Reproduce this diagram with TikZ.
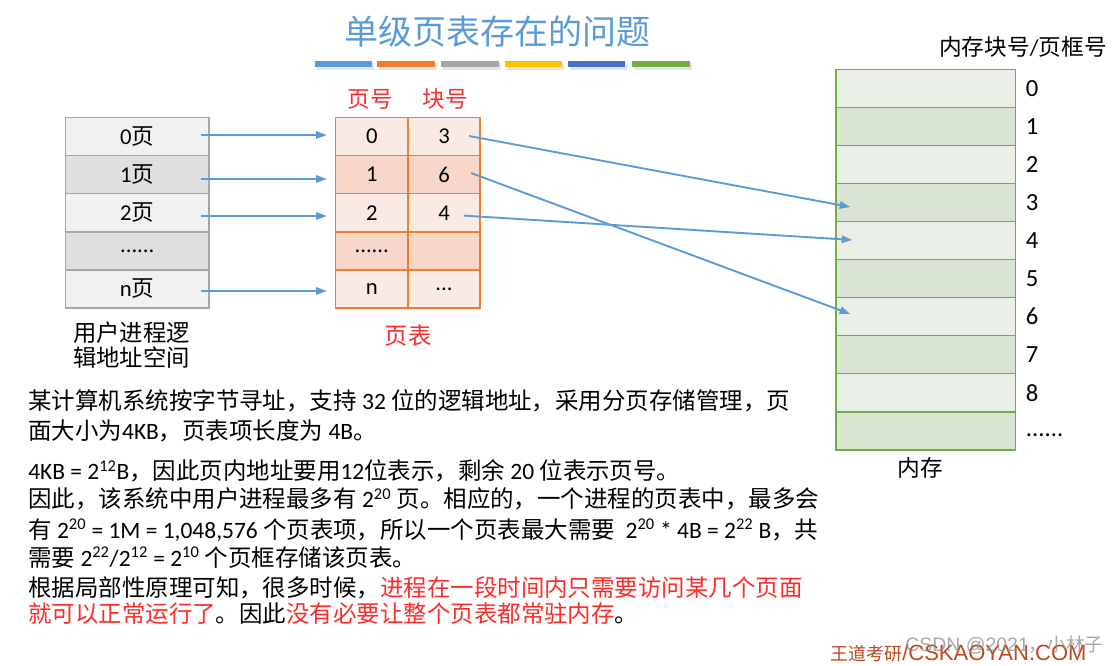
\documentclass[tikz,border=0pt]{standalone}
\usepackage{fontspec}
\setmainfont{Carlito}
\newfontfamily\latinfont{Carlito}
\newfontfamily\cjkfont{Noto Sans CJK SC}
\newfontfamily\arialfont{Liberation Sans}
\usetikzlibrary{arrows.meta}
% automatic switch between Latin and CJK fonts
\XeTeXinterchartokenstate=1
\newXeTeXintercharclass\CJKcls
\newcount\cjkc
\cjkc="3000
\loop\ifnum\cjkc<"A000 \XeTeXcharclass\cjkc=\CJKcls \advance\cjkc by 1 \repeat
\cjkc="FF00
\loop\ifnum\cjkc<"FFF0 \XeTeXcharclass\cjkc=\CJKcls \advance\cjkc by 1 \repeat
\def\mylatin{\latinfont}
\def\mycjk{\cjkfont}
\XeTeXinterchartoks 0 \CJKcls = {\mycjk}
\XeTeXinterchartoks 4095 \CJKcls = {\mycjk}
\XeTeXinterchartoks \CJKcls 0 = {\mylatin}
\XeTeXinterchartoks \CJKcls 4095 = {\mylatin}
\newcommand\fsz[2]{\fontsize{#1pt}{#2pt}\selectfont}
\definecolor{titleblue}{HTML}{5B9BD5}
\definecolor{arrowblue}{HTML}{5B9BD5}
\definecolor{barA}{HTML}{5B9BD5}
\definecolor{barB}{HTML}{ED7D31}
\definecolor{barC}{HTML}{A5A5A5}
\definecolor{barD}{HTML}{FFC000}
\definecolor{barE}{HTML}{4472C4}
\definecolor{barF}{HTML}{70AD47}
\definecolor{lborder}{HTML}{A6A6A6}
\definecolor{llight}{HTML}{F1F1F1}
\definecolor{ldark}{HTML}{DFDFDF}
\definecolor{tborder}{HTML}{ED7D31}
\definecolor{tlight}{HTML}{FBEAE3}
\definecolor{tdark}{HTML}{F8D6CA}
\definecolor{mborder}{HTML}{70AD47}
\definecolor{mlight}{HTML}{EAEFE7}
\definecolor{mdark}{HTML}{D9E4D2}
\definecolor{hired}{HTML}{FF2B2B}
\definecolor{wmred}{HTML}{C0461E}
\begin{document}
\begin{tikzpicture}[x=0.75pt,y=-0.75pt,
  lcell/.style={draw=lborder, line width=1pt, minimum width=107.6pt, minimum height=28.55pt, inner sep=0pt, font=\fsz{17}{19}},
  tcell/.style={draw=tborder, line width=1pt, minimum height=28.55pt, inner sep=0pt, font=\fsz{17}{19}},
  tcola/.style={tcell, minimum width=54.4pt},
  tcolb/.style={tcell, minimum width=54pt},
  mcell/.style={draw=mborder, line width=1pt, minimum width=134.6pt, minimum height=28.55pt, inner sep=0pt},
  mnum/.style={anchor=west, inner sep=0pt, font=\fsz{18.5}{20}},
  redlbl/.style={text=hired, inner sep=0pt, font=\fsz{17}{19}},
  body/.style={anchor=base west, inner sep=0pt, font=\fsz{17.6}{20}},
  arr/.style={draw=arrowblue, line width=1.4pt, -{Triangle[length=8pt,width=5.5pt]}}
]
\useasboundingbox (0,0) rectangle (1118,666);
\fill[white] (0,0) rectangle (1118,666);

% title
\node[text=titleblue, font=\fsz{25.5}{28}, inner sep=0pt] (title) at (497,32) {单级页表存在的问题};
% colour bars with faint shadow
\foreach \a/\b in {315/372,377/435,441/499,505/562,568/625,632/690}{
  \fill[black!10] (\a+1.5,63) rectangle (\b+1.5,70);
}
\fill[barA] (315,61) rectangle (372,67);
\fill[barB] (377,61) rectangle (435,67);
\fill[barC] (441,61) rectangle (499,67);
\fill[barD] (505,61) rectangle (562,67);
\fill[barE] (568,61) rectangle (625,67);
\fill[barF] (632,61) rectangle (690,67);

% logical address space
\node[lcell, fill=llight] (l0) at (137.25,136.6) {0页};
\node[lcell, fill=ldark]  (l1) at (137.25,174.7) {1页};
\node[lcell, fill=llight] (l2) at (137.25,212.8) {2页};
\node[lcell, fill=ldark]  (l3) at (137.25,250.9) {......};
\node[lcell, fill=llight] (l4) at (137.25,289.0) {n页};
\node[inner sep=0pt, align=left, font=\fsz{17.5}{18.75}] (llbl) at (131.5,345.5) {用户进程逻\\辑地址空间};

% page table
\node[redlbl] (hpg) at (370,99) {页号};
\node[redlbl] (hblk) at (445,99) {块号};
\node[tcola, fill=tlight] (t0a) at (371.75,136.6) {0};
\node[tcolb, fill=tlight] (t0b) at (444,136.6) {3};
\node[tcola, fill=tdark]  (t1a) at (371.75,174.7) {1};
\node[tcolb, fill=tdark]  (t1b) at (444,174.7) {6};
\node[tcola, fill=tlight] (t2a) at (371.75,212.8) {2};
\node[tcolb, fill=tlight] (t2b) at (444,212.8) {4};
\node[tcola, fill=tdark]  (t3a) at (371.75,250.9) {......};
\node[tcolb, fill=tdark]  (t3b) at (444,250.9) {};
\node[tcola, fill=tlight] (t4a) at (371.75,289.0) {n};
\node[tcolb, fill=tlight] (t4b) at (444,289.0) {...};
\node[redlbl, font=\fsz{17.5}{19}] (ptlbl) at (408,336) {页表};

% memory
\node[anchor=east, inner sep=0pt, font=\fsz{17}{19}] (mhead) at (1107,47) {内存块号/页框号};
\foreach \k in {0,...,9}{
  \pgfmathsetmacro{\yy}{88.3+38.07*\k}
  \pgfmathtruncatemacro{\odd}{mod(\k,2)}
  \ifnum\odd=0
    \node[mcell, fill=mlight] (m\k) at (925.75,\yy) {};
  \else
    \node[mcell, fill=mdark] (m\k) at (925.75,\yy) {};
  \fi
}
\foreach \k in {0,...,8}{
  \node[mnum] (n\k) at ([shift={(9.5,0)}]m\k.east) {\k};
}
\node[mnum] (n9) at ([shift={(9.5,4)}]m9.east) {......};
\node[inner sep=0pt, font=\fsz{17}{19}] (mlbl) at (920,468) {内存};

% arrows: logical pages -> page table
\draw[arr] ([shift={(-9,-1.6)}]l0.east) -- ([shift={(-8,-1.6)}]t0a.west);
\draw[arr] ([shift={(-9,4.3)}]l1.east) -- ([shift={(-8,4.3)}]t1a.west);
\draw[arr] ([shift={(-9,3.2)}]l2.east) -- ([shift={(-8,3.2)}]t2a.west);
\draw[arr] ([shift={(-9,2)}]l4.east) -- ([shift={(-8,2)}]t4a.west);
% arrows: page table -> memory frames
\draw[arr] ([shift={(25,-0.6)}]t0b.center) -- ([shift={(15,4.5)}]m3.west);
\draw[arr] ([shift={(27,-1.7)}]t1b.center) -- ([shift={(15,-2.7)}]m6.west);
\draw[arr] ([shift={(20,2.8)}]t2b.center) -- ([shift={(17,-0.6)}]m4.west);

% explanatory text
\node[body] (p1) at (28,410) {某计算机系统按字节寻址，支持 32 位的逻辑地址，采用分页存储管理，页};
\node[body] (p2) at (28,440) {面大小为4KB，页表项长度为 4B。};
\node[body] (p3) at (28,480) {4KB = 2\textsuperscript{12}B，因此页内地址要用12位表示，剩余 20 位表示页号。};
\node[body] (p4) at (28,508) {因此，该系统中用户进程最多有 2\textsuperscript{20} 页。相应的，一个进程的页表中，最多会};
\node[body] (p5) at (28,538) {有 2\textsuperscript{20} = 1M = 1,048,576 个页表项，所以一个页表最大需要~~2\textsuperscript{20} * 4B = 2\textsuperscript{22} B，共};
\node[body] (p6) at (28,566) {需要 2\textsuperscript{22}/2\textsuperscript{12} = 2\textsuperscript{10} 个页框存储该页表。};
\node[body] (p7) at (28,596) {根据局部性原理可知，很多时候，\textcolor{hired}{进程在一段时间内只需要访问某几个页面}};
\node[body] (p8) at (28,622) {\textcolor{hired}{就可以正常运行了}。因此\textcolor{hired}{没有必要让整个页表都常驻内存}。};

% watermarks
\node[anchor=base west, inner sep=0pt, text=wmred] (wm1) at (830,660)
  {\def\mylatin{\arialfont\fsz{16.5}{18}}\def\mycjk{\cjkfont\fsz{13.5}{16}}\cjkfont\fsz{13.5}{16}王道考研/CSKAOYAN.COM};
\node[anchor=base west, inner sep=0pt, text=black!45, opacity=0.75] (wm2) at (905,651)
  {\def\mylatin{\arialfont\fsz{14.6}{16}}\def\mycjk{\cjkfont\fsz{14}{16}}\arialfont\fsz{14.6}{16}CSDN @2021，小林子};
\end{tikzpicture}
\end{document}
